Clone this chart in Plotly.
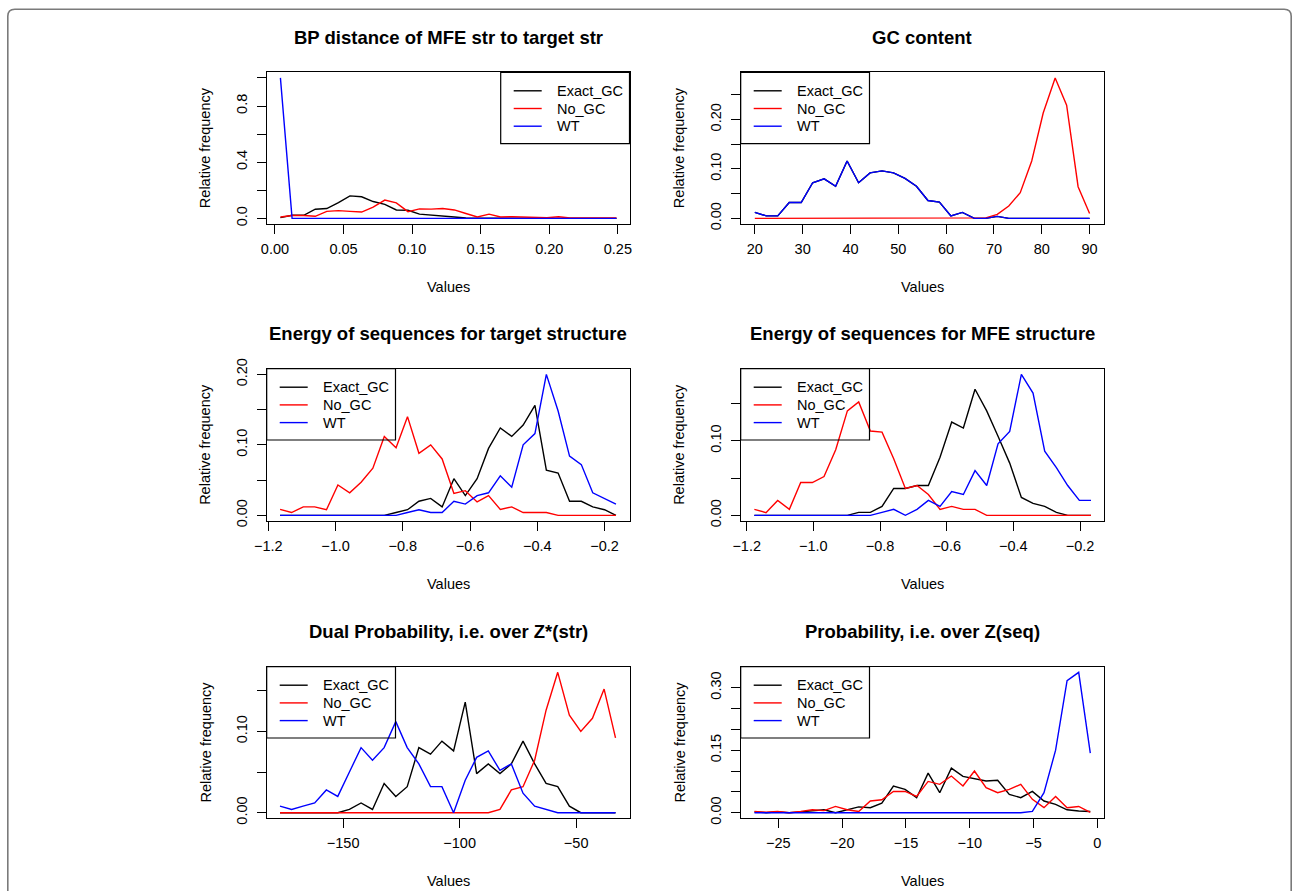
import plotly.graph_objects as go

W, H = 1294, 892

# ---------------- data ----------------
series_names = ["Exact_GC", "No_GC", "WT"]
series_colors = ["#000000", "#FF0000", "#0000FF"]

titles = ["BP distance of MFE str to target str", "GC content",
          "Energy of sequences for target structure", "Energy of sequences for MFE structure",
          "Dual Probability, i.e. over Z*(str)", "Probability, i.e. over Z(seq)"]

# Panel 1: BP distance
bp_x = [0.004, 0.0125, 0.021, 0.0294, 0.0378, 0.0463, 0.0547, 0.0632, 0.0716, 0.0801,
        0.0885, 0.0970, 0.1054, 0.1139, 0.1223, 0.1308, 0.1392, 0.1476, 0.1561, 0.1645,
        0.1730, 0.1814, 0.1899, 0.1983, 0.2068, 0.2152, 0.2237, 0.2321, 0.2406, 0.2490]
bp_exact = [0.005, 0.022, 0.022, 0.065, 0.07, 0.112, 0.16, 0.154, 0.12, 0.10,
            0.06, 0.058, 0.03, 0.025, 0.02, 0.01, 0.003, 0.002, 0.001, 0.0,
            0.0, 0.0, 0.0, 0.0, 0.0, 0.0, 0.0, 0.0, 0.0, 0.0]
bp_nogc = [0.01, 0.02, 0.02, 0.015, 0.05, 0.055, 0.05, 0.045, 0.08, 0.13,
           0.11, 0.048, 0.068, 0.066, 0.07, 0.06, 0.035, 0.01, 0.03, 0.01,
           0.012, 0.01, 0.012, 0.005, 0.012, 0.003, 0.003, 0.003, 0.003, 0.003]
bp_wt = [1.0, 0.0, 0.0, 0.0, 0.0, 0.0, 0.0, 0.0, 0.0, 0.0,
         0.0, 0.0, 0.0, 0.0, 0.0, 0.0, 0.0, 0.0, 0.0, 0.0,
         0.0, 0.0, 0.0, 0.0, 0.0, 0.0, 0.0, 0.0, 0.0, 0.0]

# Panel 2: GC content
gc_x = [20.0, 22.4, 24.8, 27.2, 29.7, 32.1, 34.5, 36.9, 39.3, 41.7,
        44.1, 46.6, 49.0, 51.4, 53.8, 56.2, 58.6, 61.0, 63.4, 65.9,
        68.3, 70.7, 73.1, 75.5, 77.9, 80.3, 82.8, 85.2, 87.6, 90.0]
gc_exact = [0.012, 0.005, 0.005, 0.032, 0.032, 0.072, 0.080, 0.065, 0.116, 0.072,
            0.092, 0.096, 0.092, 0.081, 0.065, 0.036, 0.033, 0.005, 0.012, 0.0,
            0.0, 0.004, 0.0, 0.0, 0.0, 0.0, 0.0, 0.0, 0.0, 0.0]
gc_nogc = [0.0, 0.0, 0.0, 0.0, 0.0, 0.0, 0.0, 0.0, 0.0, 0.0,
           0.0, 0.0, 0.0, 0.0, 0.0, 0.0, 0.0, 0.0, 0.0, 0.0,
           0.001, 0.008, 0.025, 0.052, 0.116, 0.213, 0.284, 0.229, 0.064, 0.010]
gc_wt = [0.012, 0.005, 0.005, 0.032, 0.032, 0.072, 0.080, 0.065, 0.116, 0.072,
         0.092, 0.096, 0.092, 0.081, 0.065, 0.036, 0.033, 0.005, 0.012, 0.0,
         0.0, 0.004, 0.0, 0.0, 0.0, 0.0, 0.0, 0.0, 0.0, 0.0]

# Panel 3: Energy of sequences for target structure
et_x = [-1.165, -1.131, -1.096, -1.062, -1.027, -0.993, -0.958, -0.924, -0.889, -0.855,
        -0.820, -0.786, -0.752, -0.717, -0.683, -0.648, -0.614, -0.579, -0.545, -0.510,
        -0.476, -0.442, -0.407, -0.373, -0.338, -0.304, -0.269, -0.235, -0.200, -0.166]
et_exact = [0.0, 0.0, 0.0, 0.0, 0.0, 0.0, 0.0, 0.0, 0.0, 0.0,
            0.004, 0.008, 0.020, 0.024, 0.012, 0.052, 0.028, 0.052, 0.095, 0.124,
            0.112, 0.128, 0.156, 0.064, 0.060, 0.020, 0.020, 0.012, 0.008, 0.0]
et_nogc = [0.0085, 0.004, 0.012, 0.012, 0.008, 0.043, 0.032, 0.047, 0.067, 0.112,
           0.096, 0.140, 0.088, 0.100, 0.080, 0.031, 0.035, 0.019, 0.028, 0.0085,
           0.012, 0.004, 0.004, 0.004, 0.0, 0.0, 0.0, 0.0, 0.0, 0.0]
et_wt = [0.0, 0.0, 0.0, 0.0, 0.0, 0.0, 0.0, 0.0, 0.0, 0.0,
         0.0, 0.004, 0.008, 0.004, 0.004, 0.020, 0.016, 0.028, 0.032, 0.056,
         0.040, 0.100, 0.116, 0.200, 0.148, 0.084, 0.072, 0.032, 0.024, 0.016]

# Panel 4: Energy of sequences for MFE structure
em_x = [-1.177, -1.142, -1.107, -1.072, -1.038, -1.003, -0.968, -0.933, -0.898, -0.864,
        -0.829, -0.794, -0.759, -0.724, -0.689, -0.655, -0.620, -0.585, -0.550, -0.515,
        -0.480, -0.446, -0.411, -0.376, -0.341, -0.306, -0.271, -0.237, -0.202, -0.167]
em_exact = [0.0, 0.0, 0.0, 0.0, 0.0, 0.0, 0.0, 0.0, 0.0, 0.004,
            0.004, 0.012, 0.036, 0.036, 0.040, 0.040, 0.078, 0.125, 0.117, 0.169,
            0.140, 0.106, 0.070, 0.024, 0.016, 0.012, 0.004, 0.0, 0.0, 0.0]
em_nogc = [0.008, 0.0036, 0.020, 0.008, 0.044, 0.044, 0.052, 0.088, 0.140, 0.152,
           0.113, 0.1115, 0.076, 0.036, 0.040, 0.028, 0.008, 0.012, 0.008, 0.008,
           0.0, 0.0, 0.0, 0.0, 0.0, 0.0, 0.0, 0.0, 0.0, 0.0]
em_wt = [0.0, 0.0, 0.0, 0.0, 0.0, 0.0, 0.0, 0.0, 0.0, 0.0,
         0.0, 0.004, 0.008, 0.0, 0.008, 0.020, 0.012, 0.032, 0.028, 0.060,
         0.040, 0.096, 0.1125, 0.189, 0.164, 0.086, 0.064, 0.040, 0.020, 0.020]

# Panel 5: Dual probability
dp_x = [-177.1, -172.1, -167.2, -162.2, -157.2, -152.3, -147.3, -142.3, -137.4, -132.4,
        -127.4, -122.5, -117.5, -112.5, -107.6, -102.6, -97.6, -92.7, -87.7, -82.7,
        -77.8, -72.8, -67.8, -62.9, -57.9, -52.9, -48.0, -43.0, -38.0, -33.1]
dp_exact = [0.0, 0.0, 0.0, 0.0, 0.0, 0.0, 0.004, 0.012, 0.004, 0.036,
            0.020, 0.032, 0.080, 0.072, 0.088, 0.076, 0.136, 0.048, 0.060, 0.048,
            0.060, 0.088, 0.060, 0.036, 0.032, 0.008, 0.0, 0.0, 0.0, 0.0]
dp_nogc = [0.0, 0.0, 0.0, 0.0, 0.0, 0.0, 0.0, 0.0, 0.0, 0.0,
           0.0, 0.0, 0.0, 0.0, 0.0, 0.0, 0.0, 0.0, 0.0, 0.004,
           0.028, 0.032, 0.0645, 0.126, 0.1726, 0.120, 0.100, 0.116, 0.152, 0.092]
dp_wt = [0.008, 0.004, 0.008, 0.012, 0.028, 0.020, 0.050, 0.080, 0.0645, 0.080,
         0.112, 0.080, 0.060, 0.032, 0.032, 0.0, 0.040, 0.068, 0.076, 0.052,
         0.060, 0.024, 0.008, 0.004, 0.0, 0.0, 0.0, 0.0, 0.0, 0.0]

# Panel 6: Probability
pr_x = [-26.87, -25.96, -25.06, -24.15, -23.24, -22.33, -21.42, -20.52, -19.61, -18.70,
        -17.79, -16.89, -15.98, -15.07, -14.16, -13.26, -12.35, -11.44, -10.53, -9.63,
        -8.72, -7.81, -6.90, -6.00, -5.09, -4.18, -3.27, -2.37, -1.46, -0.55]
pr_exact = [0.002, 0.0, 0.002, 0.0, 0.002, 0.005, 0.007, 0.0, 0.007, 0.014,
            0.012, 0.023, 0.064, 0.056, 0.036, 0.095, 0.048, 0.107, 0.087, 0.082,
            0.076, 0.078, 0.044, 0.036, 0.051, 0.028, 0.020, 0.007, 0.004, 0.003]
pr_nogc = [0.003, 0.001, 0.003, 0.0, 0.003, 0.007, 0.005, 0.015, 0.007, 0.003,
           0.028, 0.031, 0.051, 0.051, 0.039, 0.075, 0.068, 0.088, 0.064, 0.100,
           0.060, 0.048, 0.056, 0.068, 0.032, 0.012, 0.039, 0.012, 0.015, 0.001]
pr_wt = [0.0, 0.0, 0.0, 0.0, 0.0, 0.0, 0.0, 0.0, 0.0, 0.0,
         0.0, 0.0, 0.0, 0.0, 0.0, 0.0, 0.0, 0.0, 0.0, 0.0,
         0.0, 0.0, 0.0, 0.0, 0.003, 0.048, 0.150, 0.317, 0.337, 0.143]

# tick values / labels
p1_xt = [0.0, 0.05, 0.10, 0.15, 0.20, 0.25]
p1_xl = ["0.00", "0.05", "0.10", "0.15", "0.20", "0.25"]
p1_yt = [0.0, 0.2, 0.4, 0.6, 0.8, 1.0]
p1_yl = ["0.0", "", "0.4", "", "0.8", ""]
p2_xt = [20, 30, 40, 50, 60, 70, 80, 90]
p2_xl = ["20", "30", "40", "50", "60", "70", "80", "90"]
p2_yt = [0.0, 0.05, 0.10, 0.15, 0.20, 0.25]
p2_yl = ["0.00", "", "0.10", "", "0.20", ""]
p34_xt = [-1.2, -1.0, -0.8, -0.6, -0.4, -0.2]
p34_xl = ["\u22121.2", "\u22121.0", "\u22120.8", "\u22120.6", "\u22120.4", "\u22120.2"]
p3_yt = [0.0, 0.05, 0.10, 0.15, 0.20]
p3_yl = ["0.00", "", "0.10", "", "0.20"]
p4_yt = [0.0, 0.05, 0.10, 0.15]
p4_yl = ["0.00", "", "0.10", ""]
p5_xt = [-150, -100, -50]
p5_xl = ["\u2212150", "\u2212100", "\u221250"]
p5_yt = [0.0, 0.05, 0.10, 0.15]
p5_yl = ["0.00", "", "0.10", ""]
p6_xt = [-25, -20, -15, -10, -5, 0]
p6_xl = ["\u221225", "\u221220", "\u221215", "\u221210", "\u22125", "0"]
p6_yt = [0.0, 0.05, 0.10, 0.15, 0.20, 0.25, 0.30]
p6_yl = ["0.00", "", "", "0.15", "", "", "0.30"]

# ---------------- layout geometry (pixels) ----------------
FONT = "Liberation Sans, Arial, Helvetica, sans-serif"
cols = [(266.7, 629.5), (740.7, 1103.7)]
rows = [(72.3, 224.0), (368.7, 521.0), (666.7, 818.3)]

panels = [
    dict(x=bp_x, ys=[bp_exact, bp_nogc, bp_wt], xr=[-0.0060, 0.2585], yr=[-0.040, 1.040],
         xt=p1_xt, xl=p1_xl, yt=p1_yt, yl=p1_yl, leg="right"),
    dict(x=gc_x, ys=[gc_exact, gc_nogc, gc_wt], xr=[17.05, 92.95], yr=[-0.0114, 0.2954],
         xt=p2_xt, xl=p2_xl, yt=p2_yt, yl=p2_yl, leg="left"),
    dict(x=et_x, ys=[et_exact, et_nogc, et_wt], xr=[-1.2048, -0.1257], yr=[-0.008, 0.208],
         xt=p34_xt, xl=p34_xl, yt=p3_yt, yl=p3_yl, leg="left"),
    dict(x=em_x, ys=[em_exact, em_nogc, em_wt], xr=[-1.218, -0.129], yr=[-0.0076, 0.1966],
         xt=p34_xt, xl=p34_xl, yt=p4_yt, yl=p4_yl, leg="left"),
    dict(x=dp_x, ys=[dp_exact, dp_nogc, dp_wt], xr=[-182.8, -27.1], yr=[-0.0069, 0.1795],
         xt=p5_xt, xl=p5_xl, yt=p5_yt, yl=p5_yl, leg="left"),
    dict(x=pr_x, ys=[pr_exact, pr_nogc, pr_wt], xr=[-27.95, 0.5], yr=[-0.0135, 0.3505],
         xt=p6_xt, xl=p6_xl, yt=p6_yt, yl=p6_yl, leg="left"),
]


def px(x):
    return x / W


def py(y):
    return 1 - y / H


fig = go.Figure()
shapes = []
annotations = []
LW = 1.4
FS = 14.5

for k, p in enumerate(panels):
    r, c = divmod(k, 2)
    x0, x1 = cols[c]
    y0, y1 = rows[r]
    n = "" if k == 0 else str(k + 1)
    xa, ya = "xaxis" + n, "yaxis" + n
    xref, yref = "x" + n, "y" + n

    for ser, col, nm in zip(p["ys"], series_colors, series_names):
        fig.add_trace(go.Scatter(x=p["x"], y=ser, mode="lines", name=nm,
                                 line=dict(color=col, width=LW), showlegend=False,
                                 hoverinfo="skip", xaxis=xref, yaxis=yref))

    common = dict(showgrid=False, zeroline=False, showline=True, mirror=True,
                  linecolor="black", linewidth=1.2, ticks="outside", ticklen=9,
                  tickwidth=1.2, tickcolor="black", automargin=False,
                  tickfont=dict(family=FONT, size=FS, color="black"), tickmode="array")
    fig.update_layout({
        xa: dict(common, domain=[px(x0), px(x1)], range=p["xr"], anchor=yref,
                 tickvals=p["xt"], ticktext=p["xl"], ticklabelstandoff=2),
        ya: dict(common, domain=[py(y1), py(y0)], range=p["yr"], anchor=xref,
                 tickvals=p["yt"], ticktext=p["yl"], tickangle=-90, ticklabelstandoff=4),
    })

    # title, axis titles
    annotations.append(dict(text="<b>%s</b>" % titles[k], x=px((x0 + x1) / 2), y=py(y0 - 35),
                            xref="paper", yref="paper", showarrow=False,
                            xanchor="center", yanchor="middle",
                            font=dict(family=FONT, size=18.5, color="black")))
    annotations.append(dict(text="Values", x=px((x0 + x1) / 2), y=py(y1 + 62.5),
                            xref="paper", yref="paper", showarrow=False,
                            xanchor="center", yanchor="middle",
                            font=dict(family=FONT, size=FS, color="black")))
    annotations.append(dict(text="Relative frequency", x=px(x0 - 61.7), y=py((y0 + y1) / 2),
                            xref="paper", yref="paper", showarrow=False, textangle=-90,
                            xanchor="center", yanchor="middle",
                            font=dict(family=FONT, size=FS, color="black")))

    # legend box (drawn manually, R style)
    lw_box, lh_box = 128.8, 71.3
    lx0 = x1 - lw_box if p["leg"] == "right" else x0
    ly0 = y0
    shapes.append(dict(type="rect", xref="paper", yref="paper",
                       x0=px(lx0), x1=px(lx0 + lw_box), y0=py(ly0), y1=py(ly0 + lh_box),
                       line=dict(color="black", width=1.2), fillcolor="rgba(0,0,0,0)"))
    for j, (nm, col) in enumerate(zip(series_names, series_colors)):
        yy = ly0 + 18.5 + 17.7 * j
        shapes.append(dict(type="line", xref="paper", yref="paper",
                           x0=px(lx0 + 13), x1=px(lx0 + 41), y0=py(yy), y1=py(yy),
                           line=dict(color=col, width=LW)))
        annotations.append(dict(text=nm, x=px(lx0 + 54), y=py(yy), xref="paper", yref="paper",
                                showarrow=False, xanchor="left", yanchor="middle",
                                font=dict(family=FONT, size=FS, color="black")))

# outer rounded frame of the figure
fx0, fx1, fy0, fy1, rad = 7.8, 1291.2, 9.3, 891.0, 7.0
path = ("M %f,%f L %f,%f Q %f,%f %f,%f L %f,%f Q %f,%f %f,%f L %f,%f" % (
    px(fx0), py(fy1), px(fx0), py(fy0 + rad), px(fx0), py(fy0), px(fx0 + rad), py(fy0),
    px(fx1 - rad), py(fy0), px(fx1), py(fy0), px(fx1), py(fy0 + rad), px(fx1), py(fy1)))
shapes.append(dict(type="path", xref="paper", yref="paper", path=path,
                   line=dict(color="#7a7a7a", width=1.6)))

fig.update_layout(width=W, height=H, autosize=False,
                  margin=dict(l=0, r=0, t=0, b=0, pad=0, autoexpand=False),
                  paper_bgcolor="white", plot_bgcolor="white", template="none",
                  shapes=shapes, annotations=annotations, showlegend=False,
                  font=dict(family=FONT, color="black"))

fig.write_html("out.html")
